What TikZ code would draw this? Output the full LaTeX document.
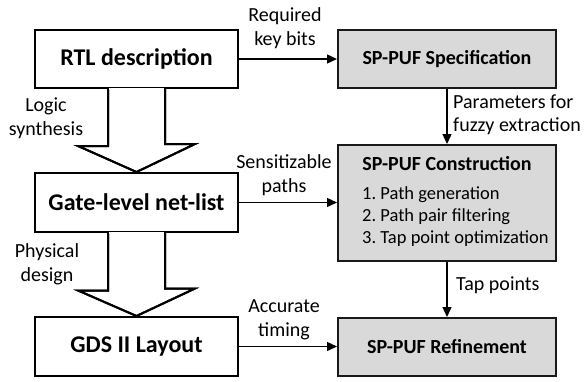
\documentclass[tikz,border=0pt]{standalone}
\usepackage{fontspec}
\setmainfont{Carlito}
\usetikzlibrary{arrows.meta}
\frenchspacing
\definecolor{boxgray}{HTML}{D9D9D9}
\tikzset{
  flowbox/.style={draw=black, line width=2pt, fill=white, rectangle, inner sep=0pt, minimum width=203pt, minimum height=58pt, font=\fontsize{24}{28}\selectfont\bfseries},
  pufbox/.style={draw=black!90, line width=2pt, fill=boxgray, rectangle, inner sep=0pt, minimum width=218pt, minimum height=58pt, font=\fontsize{20}{24}\selectfont\bfseries},
  conn/.style={line width=1.3pt, -{Triangle[length=10pt,width=9pt]}},
  lbl/.style={inner sep=0pt, align=center, font=\fontsize{20}{24}\selectfont},
  lbll/.style={inner sep=0pt, align=left, anchor=west, font=\fontsize{20}{23}\selectfont},
  listtxt/.style={inner sep=0pt, anchor=west, font=\fontsize{18.5}{22}\selectfont},
  blockarrow/.style={draw=black, line width=2pt, fill=white, line join=miter}
}
\begin{document}
\begin{tikzpicture}[x=1pt, y=-1pt]
\useasboundingbox (0,0) rectangle (585,381);
% left boxes
\node[flowbox] (rtl) at (136.5,59) {RTL description};
\node[flowbox, minimum height=59pt] (gate) at (136.5,202.5) {Gate-level net-list};
\node[flowbox, minimum height=59pt] (gds) at (136.5,346.5) {GDS II Layout};
% block arrows
\path[blockarrow, fill=white] ([xshift=-28.5pt]rtl.south) -- ++(0,57) -- ++(-30,0) -- (gate.north) -- ++(58.5,-28) -- ++(-30,0) -- ([xshift=28.5pt]rtl.south);
\draw[blockarrow, fill=none] ([xshift=-28.5pt]rtl.south) -- ++(0,57) -- ++(-30,0) -- (gate.north) -- ++(58.5,-28) -- ++(-30,0) -- ([xshift=28.5pt]rtl.south);
\fill[white] ([xshift=-27.5pt,yshift=1.2pt]rtl.south) rectangle ([xshift=27.5pt,yshift=-1.2pt]rtl.south);
\path[blockarrow, fill=white] ([xshift=-28.5pt]gate.south) -- ++(0,57.5) -- ++(-30,0) -- (gds.north) -- ++(58.5,-27.5) -- ++(-30,0) -- ([xshift=28.5pt]gate.south);
\draw[blockarrow, fill=none] ([xshift=-28.5pt]gate.south) -- ++(0,57.5) -- ++(-30,0) -- (gds.north) -- ++(58.5,-27.5) -- ++(-30,0) -- ([xshift=28.5pt]gate.south);
\fill[white] ([xshift=-27.5pt,yshift=1.2pt]gate.south) rectangle ([xshift=27.5pt,yshift=-1.2pt]gate.south);
% right boxes
\node[pufbox] (spec) at (447,59) {SP-PUF Specification};
\node[pufbox, minimum height=116pt] (cons) at (447,203) {};
\node[pufbox] (ref) at (447,347) {SP-PUF Refinement};
\node[inner sep=0pt, font=\fontsize{20}{24}\selectfont\bfseries] (constitle) at (447,164) {SP-PUF Construction};
\node[listtxt] (l1) at (362,195) {1. Path generation};
\node[listtxt] (l2) at (362,217) {2. Path pair filtering};
\node[listtxt] (l3) at (362,239) {3. Tap point optimization};
% connectors
\draw[conn] (rtl.east) -- (spec.west);
\draw[conn] (gate.east) -- (cons.west |- gate.east);
\draw[conn] (gds.east) -- (ref.west |- gds.east);
\draw[conn] (spec.south) -- (cons.north);
\draw[conn] (cons.south) -- (ref.north);
% labels
\node[lbl] (lreq) at (285,28) {Required\\key bits};
\node[lbl] (lsens) at (284,175) {Sensitizable\\paths};
\node[lbl] (lacc) at (284,320) {Accurate\\timing};
\node[lbl] (llogic) at (46,118) {Logic\\synthesis};
\node[lbl] (lphys) at (47,264) {Physical\\design};
\node[lbll] (lpar) at (453,115) {Parameters for\\fuzzy extraction};
\node[lbll] (ltap) at (456,285) {Tap points};
\end{tikzpicture}
\end{document}
